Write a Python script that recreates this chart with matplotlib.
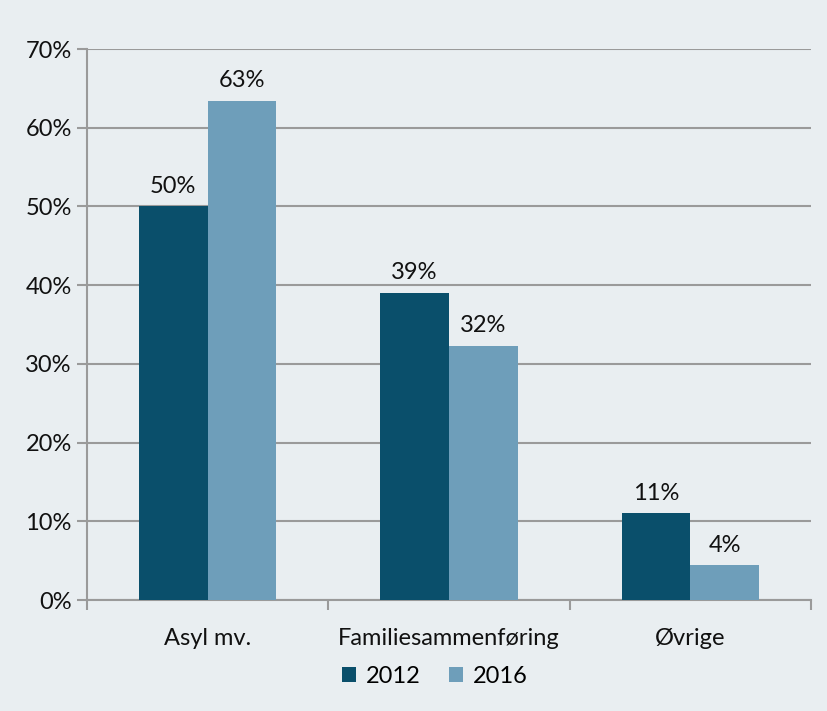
import matplotlib
matplotlib.use("Agg")
import matplotlib.pyplot as plt
import numpy as np
from matplotlib.patches import Patch

categories = ["Asyl mv.", "Familiesammenføring", "Øvrige"]
years = ["2012", "2016"]
vals_2012 = [50.0, 39.0, 11.0]
vals_2016 = [63.4, 32.3, 4.4]
labels_2012 = ["50%", "39%", "11%"]
labels_2016 = ["63%", "32%", "4%"]
yticks = [0, 10, 20, 30, 40, 50, 60, 70]

BG = "#E9EEF1"
DARK = "#0A4F6B"
LIGHT = "#6E9EBA"
GRID = "#9A9A9A"
FS = 17

plt.rcParams["font.family"] = ["Lato", "DejaVu Sans"]

fig = plt.figure(figsize=(8.28, 7.11), dpi=100, facecolor=BG)
ax = fig.add_axes([0.105, 0.156, 0.8745, 0.775], facecolor=BG)

x = np.arange(len(categories))
w = 0.285
b1 = ax.bar(x - w / 2, vals_2012, w, color=DARK, zorder=3, label=years[0])
b2 = ax.bar(x + w / 2, vals_2016, w, color=LIGHT, zorder=3, label=years[1])

for bars, labs in [(b1, labels_2012), (b2, labels_2016)]:
    for rect, lab in zip(bars, labs):
        ax.annotate(lab, (rect.get_x() + rect.get_width() / 2, rect.get_height()),
                    xytext=(0, 7), textcoords="offset points", ha="center", va="bottom",
                    fontsize=FS, color="#111111")

ax.set_ylim(0, 70)
ax.set_xlim(-0.5, len(categories) - 0.5)
ax.set_yticks(yticks)
ax.set_yticklabels([f"{t}%" for t in yticks], fontsize=FS, color="#111111")
ax.yaxis.grid(True, color=GRID, linewidth=1.5, zorder=0)
ax.set_axisbelow(True)

# kategorinavn midt i, tick-streker på grensene
ax.set_xticks(np.arange(len(categories) + 1) - 0.5)
ax.set_xticklabels([])
ax.set_xticks(x, minor=True)
ax.set_xticklabels(categories, minor=True, fontsize=FS, color="#111111")
ax.tick_params(axis="x", which="minor", length=0, pad=20)
ax.tick_params(axis="x", which="major", length=7, width=1.5, color=GRID)
ax.tick_params(axis="y", length=7, width=1.5, color=GRID, pad=4)

for s in ["top", "right"]:
    ax.spines[s].set_visible(False)
for s in ["left", "bottom"]:
    ax.spines[s].set_color(GRID)
    ax.spines[s].set_linewidth(1.5)

handles = [Patch(facecolor=DARK, label=years[0]), Patch(facecolor=LIGHT, label=years[1])]
fig.legend(handles=handles, loc="center", bbox_to_anchor=(0.525, 0.049), ncol=2,
           frameon=False, fontsize=FS, handlelength=0.6, handleheight=0.6,
           handletextpad=0.4, columnspacing=1.2)

fig.savefig("out.png", dpi=100, facecolor=BG)
